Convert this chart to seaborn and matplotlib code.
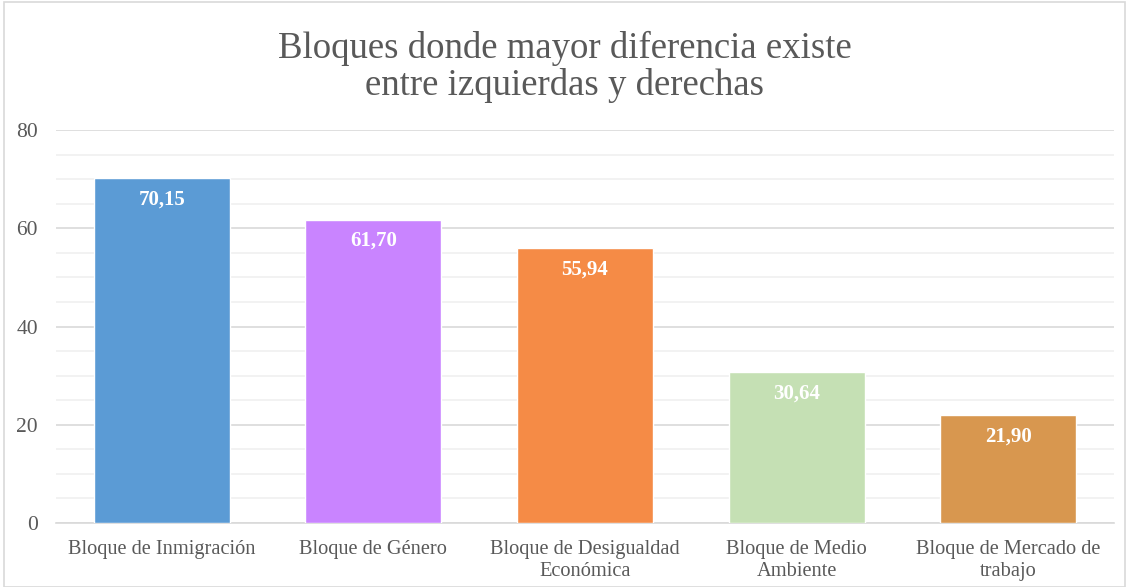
import matplotlib
matplotlib.use("Agg")
import matplotlib.pyplot as plt
from matplotlib.patches import Rectangle
from matplotlib.ticker import MultipleLocator
import seaborn as sns
import pandas as pd

# Data
categories = [
    "Bloque de Inmigración",
    "Bloque de Género",
    "Bloque de Desigualdad\nEconómica",
    "Bloque de Medio\nAmbiente",
    "Bloque de Mercado de\ntrabajo",
]
values = [70.15, 61.70, 55.94, 30.64, 21.90]
bar_colors = ["#5B9BD5", "#C984FF", "#F58B46", "#C5E0B4", "#D8974F"]
title = "Bloques donde mayor diferencia existe\nentre izquierdas y derechas"

df = pd.DataFrame({"bloque": categories, "valor": values})

sns.set_theme(style="white")
plt.rcParams["font.family"] = ["Liberation Serif", "DejaVu Serif"]
text_color = "#595959"

fig = plt.figure(figsize=(11.29, 5.87), dpi=100)
ax = fig.add_axes([56 / 1129, 1 - 523 / 587, (1114 - 56) / 1129, (523 - 130) / 587])

sns.barplot(data=df, x="bloque", y="valor", hue="bloque", palette=bar_colors,
            legend=False, width=0.643, saturation=1, ax=ax, zorder=3)

ax.set_ylim(0, 80)
ax.set_xlim(-0.5, len(categories) - 0.5)
ax.yaxis.set_major_locator(MultipleLocator(20))
ax.yaxis.set_minor_locator(MultipleLocator(5))
ax.grid(axis="y", which="major", color="#D9D9D9", linewidth=1.2, zorder=0)
ax.grid(axis="y", which="minor", color="#F0F0F0", linewidth=1.2, zorder=0)
ax.set_axisbelow(True)
for side in ["top", "right", "left"]:
    ax.spines[side].set_visible(False)
ax.spines["bottom"].set_color("#D9D9D9")
ax.spines["bottom"].set_linewidth(1.2)
ax.set_xlabel("")
ax.set_ylabel("")
ax.tick_params(axis="both", which="both", length=0, colors=text_color, labelsize=14.7)
ax.tick_params(axis="y", pad=13, labelsize=15.5)
ax.tick_params(axis="x", pad=12)
for lbl in ax.get_xticklabels():
    lbl.set_linespacing(1.25)

for i, v in enumerate(values):
    ax.text(i, v - 4.3, f"{v:.2f}".replace(".", ","), ha="center", va="center",
            color="white", fontsize=15, fontweight="bold", zorder=4)

fig.text(0.5, 1 - 67 / 587, title, ha="center", va="center", fontsize=26.5,
         color=text_color, linespacing=1.1)

# chart area border
fig.patches.append(Rectangle((4 / 1129, 0), 1 - 8 / 1129, 1 - 2 / 587, transform=fig.transFigure,
                             fill=False, edgecolor="#D9D9D9", linewidth=1.2))

fig.savefig("out.png", dpi=100)
